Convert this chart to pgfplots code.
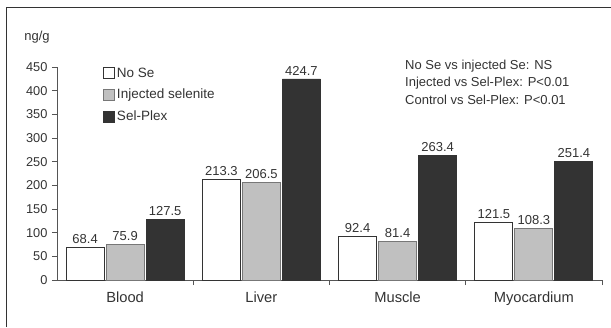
\documentclass[border=0pt]{standalone}
\usepackage{pgfplots}
\pgfplotsset{compat=1.18}
\usepackage{fontspec}
\setmainfont{Liberation Sans}
\definecolor{txt}{HTML}{333333}
\definecolor{axc}{HTML}{555555}
\definecolor{barblack}{HTML}{333333}
\definecolor{bargray}{HTML}{C0C0C0}
\begin{document}
\begin{tikzpicture}
\useasboundingbox (-57pt,-47pt) rectangle (554pt,280pt);
\draw[color=txt, line width=1pt] (-50pt,-47pt) -- (-50pt,272pt) -- (554pt,272pt);
\begin{axis}[
  scale only axis, width=545pt, height=213pt,
  xmin=-0.5, xmax=3.5, ymin=0, ymax=450,
  ybar, bar width=38pt,
  axis lines*=left, axis line style={-, color=axc, line width=0.8pt},
  xtick={0,1,2,3}, xticklabels={Blood,Liver,Muscle,Myocardium},
  minor xtick={0.5,1.5,2.5,3.5},
  major x tick style={draw=none},
  minor x tick style={color=axc, line width=0.8pt},
  minor tick length=5pt,
  ytick={0,50,...,450},
  y tick style={color=axc, line width=0.8pt},
  major tick length=5pt,
  tick align=outside,
  /pgf/number format/assume math mode=true,
  xticklabel style={font=\fontsize{14.7}{16}\selectfont, color=txt, yshift=-3pt},
  yticklabel style={font=\fontsize{12.8}{14}\selectfont, color=txt, xshift=-1pt},
  nodes near coords,
  nodes near coords style={font=\fontsize{13}{14}\selectfont, color=txt, /pgf/number format/fixed, /pgf/number format/precision=1, /pgf/number format/fixed zerofill},
  legend style={at={(46pt,185pt)}, anchor=west, draw=none, fill=none, font=\fontsize{13.5}{15}\selectfont, text=txt, row sep=6.5pt, inner sep=0pt, legend cell align=left},
  legend image code/.code={\draw[#1] (0pt,-5.5pt) rectangle (11pt,5.5pt);},
  clip=false,
]
\addplot[fill=white, draw=txt, line width=0.8pt] coordinates {(0,68.4) (1,213.3) (2,92.4) (3,121.5)};
\addplot[fill=bargray, draw=axc!80, line width=0.8pt] coordinates {(0,75.9) (1,206.5) (2,81.4) (3,108.3)};
\addplot[fill=barblack, draw=barblack, line width=0.8pt] coordinates {(0,127.5) (1,424.7) (2,263.4) (3,251.4)};
\legend{No Se, Injected selenite, Sel-Plex}
\end{axis}
\node[anchor=center, text=txt, font=\fontsize{13}{14}\selectfont] at (-20pt,243pt) {ng/g};
\node[anchor=west, text=txt, font=\fontsize{13}{14}\selectfont, inner sep=0pt] at (348pt,214pt) {No Se vs injected Se: NS};
\node[anchor=west, text=txt, font=\fontsize{13}{14}\selectfont, inner sep=0pt] at (348pt,197pt) {Injected vs Sel-Plex: P<0.01};
\node[anchor=west, text=txt, font=\fontsize{13}{14}\selectfont, inner sep=0pt] at (348pt,180pt) {Control vs Sel-Plex: P<0.01};
\end{tikzpicture}
\end{document}
